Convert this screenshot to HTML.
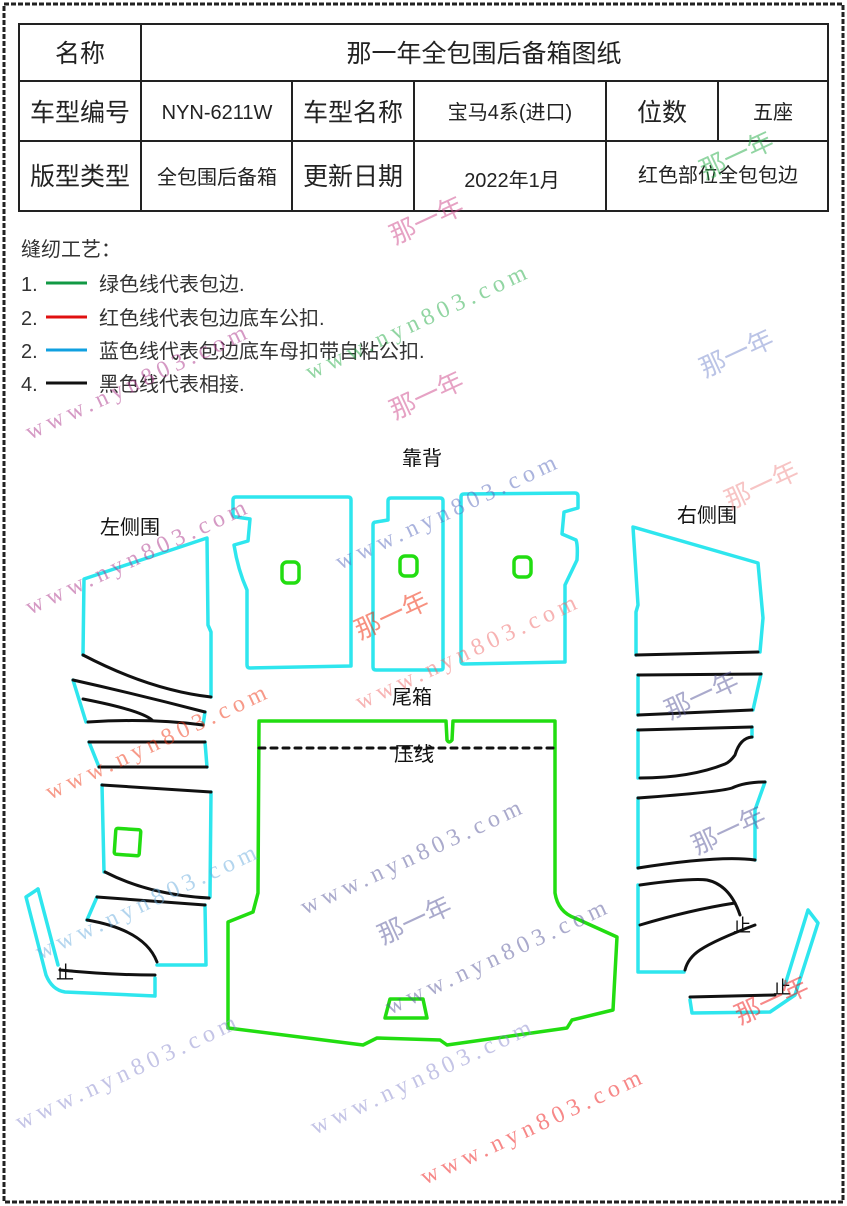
<!DOCTYPE html>
<html><head><meta charset="utf-8"><style>
body{margin:0;background:#fff;}
svg{display:block;}
text{font-family:"Liberation Sans","Noto Sans CJK SC",sans-serif;}
text.wm{font-family:"Liberation Serif","Noto Serif CJK SC",serif;letter-spacing:5px;}
</style></head><body>
<svg width="847" height="1206" viewBox="0 0 847 1206" xmlns="http://www.w3.org/2000/svg">
<rect x="0" y="0" width="847" height="1206" fill="#fff"/>
<rect x="4" y="4" width="839" height="1198" fill="none" stroke="#222" stroke-width="3" stroke-dasharray="5 2"/>
<!-- table -->
<g stroke="#222" stroke-width="2" fill="none">
<rect x="19" y="24" width="809" height="187"/>
<line x1="19" y1="81" x2="828" y2="81"/>
<line x1="19" y1="141" x2="828" y2="141"/>
<line x1="141" y1="24" x2="141" y2="211"/>
<line x1="292" y1="81" x2="292" y2="211"/>
<line x1="414" y1="81" x2="414" y2="211"/>
<line x1="606" y1="81" x2="606" y2="211"/>
<line x1="718" y1="81" x2="718" y2="141"/>
</g>
<g fill="#222" text-anchor="middle">
<text x="80" y="62" font-size="25">名称</text>
<text x="484" y="62" font-size="25">那一年全包围后备箱图纸</text>
<text x="80" y="121" font-size="25">车型编号</text>
<text x="217" y="119" font-size="20">NYN-6211W</text>
<text x="353" y="121" font-size="25">车型名称</text>
<text x="510" y="119" font-size="20">宝马4系(进口)</text>
<text x="662" y="121" font-size="25">位数</text>
<text x="773" y="119" font-size="20">五座</text>
<text x="80" y="185" font-size="25">版型类型</text>
<text x="217" y="184" font-size="20">全包围后备箱</text>
<text x="353" y="185" font-size="25">更新日期</text>
<text x="512" y="187" font-size="20">2022年1月</text>
<text x="718" y="182" font-size="20">红色部位全包包边</text>
</g>
<!-- legend -->
<g fill="#333" font-size="20">
<text x="21" y="256">缝纫工艺：</text>
<text x="21" y="291">1.</text><text x="99" y="291">绿色线代表包边.</text>
<text x="21" y="325">2.</text><text x="99" y="325">红色线代表包边底车公扣.</text>
<text x="21" y="358">2.</text><text x="99" y="358">蓝色线代表包边底车母扣带自粘公扣.</text>
<text x="21" y="391">4.</text><text x="99" y="391">黑色线代表相接.</text>
</g>
<line x1="46" y1="283" x2="87" y2="283" stroke="#119944" stroke-width="3"/>
<line x1="46" y1="317" x2="87" y2="317" stroke="#e01010" stroke-width="3"/>
<line x1="46" y1="350" x2="87" y2="350" stroke="#10a0e0" stroke-width="3"/>
<line x1="46" y1="383" x2="87" y2="383" stroke="#111" stroke-width="3"/>
<!-- labels -->
<g fill="#111" font-size="20" text-anchor="middle">
<text x="422" y="465">靠背</text>
<text x="130" y="534">左侧围</text>
<text x="707" y="522">右侧围</text>
<text x="412" y="704">尾箱</text>
<text x="414" y="761">压线</text>
</g>
<g fill="none" stroke-linejoin="round" stroke-linecap="round">
<g stroke="#2ee6ee" stroke-width="3.5">
<path d="M236,497 L348,497 Q351,497 351,500 L351,666 L250,668 Q247,668 247,665 L247,590 Q238,570 234,545 L248,541 L250,519 L236,517 Q233,517 233,514 L233,500 Q233,497 236,497Z"/>
<path d="M391,498 L440,498 Q443,498 443,501 L443,668 Q443,670 440,670 L376,670 Q373,670 373,667 L373,525 Q373,522 376,522 L388,520 L388,501 Q388,498 391,498Z"/>
<path d="M464,494 L575,493 Q578,493 578,496 L578,508 L564,512 L562,534 L576,540 Q578,545 577,560 L565,585 L565,662 L464,664 Q461,664 461,661 L461,497 Q461,494 464,494Z"/>
</g>
<g stroke="#22dd11" stroke-width="3.5">
<rect x="282" y="562" width="17" height="21" rx="5"/>
<rect x="400" y="556" width="17" height="20" rx="5"/>
<rect x="514" y="557" width="17" height="20" rx="5"/>
</g>
<g stroke="#2ee6ee" stroke-width="3.5">
<path d="M83,655 L84,579 L207,538 L208,625 L211,632 L211,697"/>
<path d="M73,680 L86,722 M205,712 L203,725"/>
<path d="M89,742 L99,767 M205,742 L207,767"/>
<path d="M102,785 L104,872 M211,792 L210,897"/>
<path d="M97,897 L87,920 M205,905 L206,965 L157,965"/>
<path d="M38,889 L26,897 L46,975 Q52,990 65,992 L155,996 L155,978"/>
<path d="M38,889 L58,965"/>
</g>
<g stroke="#111" stroke-width="3">
<path d="M83,655 Q150,690 211,697"/>
<path d="M73,680 Q140,695 205,712"/>
<path d="M83,699 Q140,710 152,720"/>
<path d="M88,722 Q150,718 203,725"/>
<path d="M89,742 L205,742"/>
<path d="M99,767 L207,767"/>
<path d="M102,785 L211,792"/>
<path d="M105,872 Q150,895 209,898"/>
<path d="M97,897 L205,905"/>
<path d="M87,920 Q145,930 157,962"/>
<path d="M60,970 Q110,975 155,975"/>
</g>
<rect x="115" y="829" width="25" height="26" rx="2" stroke="#22dd11" stroke-width="3.5" transform="rotate(4 127 842)"/>
<g stroke="#2ee6ee" stroke-width="3.5">
<path d="M636,655 L636,612 L638,605 L633,527 L758,563 L763,618 L760,652"/>
<path d="M638,675 L638,715 M761,674 L753,710"/>
<path d="M638,730 L638,778 M752,727 L752,737"/>
<path d="M638,798 L638,868 M765,782 L755,810 L755,860"/>
<path d="M638,885 L638,972 L684,972"/>
<path d="M690,1000 L692,1013 L770,1012 L795,995 L818,923 L808,910 L785,985"/>
</g>
<g stroke="#111" stroke-width="3">
<path d="M636,655 L758,652"/>
<path d="M638,675 L761,674"/>
<path d="M638,715 L752,710"/>
<path d="M638,730 Q720,728 752,727"/>
<path d="M752,737 Q740,738 735,755 Q730,762 725,764 Q690,778 640,778"/>
<path d="M638,798 Q720,792 732,788 Q745,782 765,782"/>
<path d="M638,868 Q720,855 755,860"/>
<path d="M640,885 Q690,878 707,880 Q730,885 740,915"/>
<path d="M640,925 Q690,910 735,903"/>
<path d="M755,925 Q715,940 700,950 Q688,958 685,970"/>
<path d="M690,997 L775,995"/>
</g>
<path d="M259,721 L446,721 L447,740 Q449,744 452,740 L453,721 L555,721 L555,893 Q558,912 575,918 L617,937 L613,1010 L572,1020 L567,1028 L447,1045 L440,1040 L377,1038 L363,1045 L228,1028 L228,922 L253,912 L258,893 Z" stroke="#22dd11" stroke-width="3.5"/>
<path d="M390,999 L423,999 L427,1018 L385,1018 Z" stroke="#22dd11" stroke-width="3.5"/>
<line x1="259" y1="748" x2="555" y2="748" stroke="#111" stroke-width="3" stroke-dasharray="6 6"/>
</g>
<g fill="#111" font-size="18">
<text x="56" y="979">止</text>
<text x="733" y="932">止</text>
<text x="773" y="994">止</text>
</g>
<g font-size="24" opacity="0.5">
<text class="wm" x="310" y="380" fill="#22aa44" transform="rotate(-25 310 380)">www.nyn803.com</text>
<text class="wm" x="30" y="440" fill="#aa3388" transform="rotate(-25 30 440)">www.nyn803.com</text>
<text class="wm" x="30" y="615" fill="#aa3388" transform="rotate(-25 30 615)">www.nyn803.com</text>
<text class="wm" x="340" y="570" fill="#5566bb" transform="rotate(-25 340 570)">www.nyn803.com</text>
<text class="wm" x="360" y="710" fill="#ee6666" transform="rotate(-25 360 710)">www.nyn803.com</text>
<text class="wm" x="50" y="800" fill="#ee3311" transform="rotate(-25 50 800)">www.nyn803.com</text>
<text class="wm" x="40" y="960" fill="#66aadd" transform="rotate(-25 40 960)">www.nyn803.com</text>
<text class="wm" x="305" y="915" fill="#555599" transform="rotate(-25 305 915)">www.nyn803.com</text>
<text class="wm" x="390" y="1015" fill="#555599" transform="rotate(-25 390 1015)">www.nyn803.com</text>
<text class="wm" x="20" y="1130" fill="#8888cc" transform="rotate(-25 20 1130)">www.nyn803.com</text>
<text class="wm" x="315" y="1135" fill="#8888cc" transform="rotate(-25 315 1135)">www.nyn803.com</text>
<text class="wm" x="425" y="1185" fill="#ee1111" transform="rotate(-25 425 1185)">www.nyn803.com</text>
</g>
<g font-size="26" opacity="0.5">
<text x="395" y="245" fill="#cc4488" transform="rotate(-25 395 245)">那一年</text>
<text x="395" y="420" fill="#cc4488" transform="rotate(-25 395 420)">那一年</text>
<text x="705" y="378" fill="#7788cc" transform="rotate(-25 705 378)">那一年</text>
<text x="705" y="180" fill="#22aa44" transform="rotate(-25 705 180)">那一年</text>
<text x="360" y="640" fill="#ee2200" transform="rotate(-25 360 640)">那一年</text>
<text x="730" y="510" fill="#ee8888" transform="rotate(-25 730 510)">那一年</text>
<text x="670" y="720" fill="#555599" transform="rotate(-25 670 720)">那一年</text>
<text x="697" y="855" fill="#555599" transform="rotate(-25 697 855)">那一年</text>
<text x="383" y="945" fill="#555599" transform="rotate(-25 383 945)">那一年</text>
<text x="740" y="1025" fill="#ee1111" transform="rotate(-25 740 1025)">那一年</text>
</g>
</svg>
</body></html>
